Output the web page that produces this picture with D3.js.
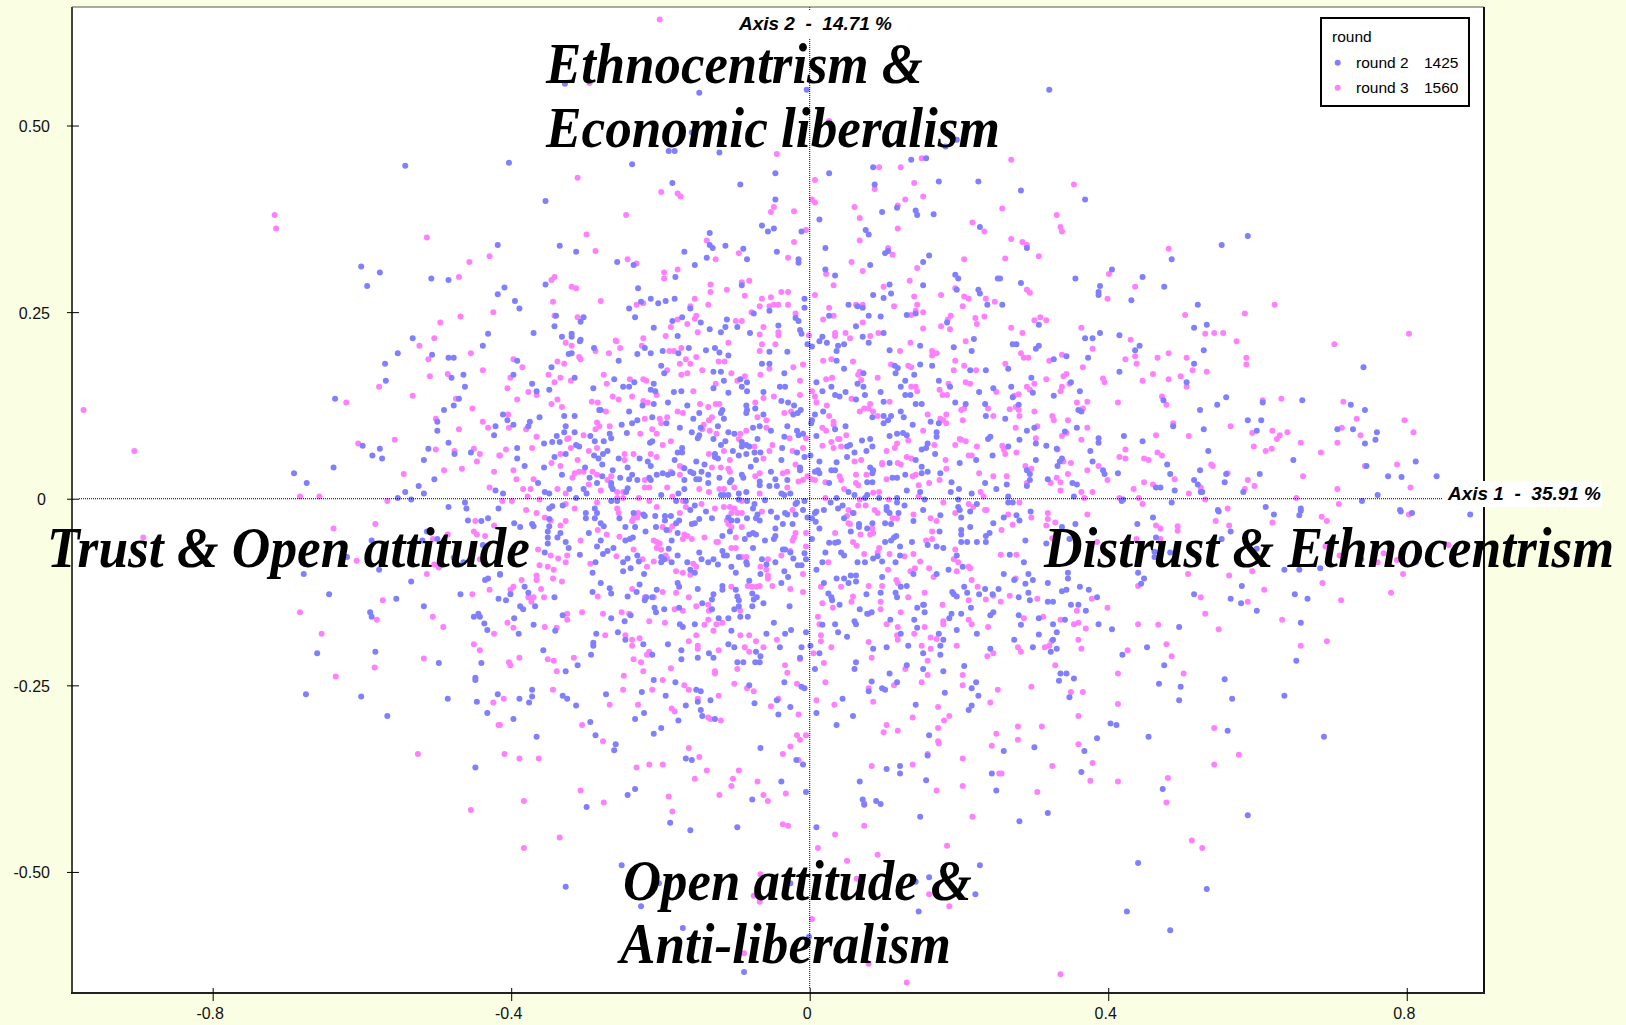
<!DOCTYPE html>
<html>
<head>
<meta charset="utf-8">
<script src="https://cdn.jsdelivr.net/npm/d3@7"></script>
<style>
html, body { margin: 0; padding: 0; background: #fafee2; }
svg { display: block; }
text { fill: #000; }
</style>
</head>
<body>
<div id="chart"></div>
<script>
// tick labels
const xTicks = [-0.8, -0.4, 0, 0.4, 0.8];
const xTickLabels = ["-0.8", "-0.4", "0", "0.4", "0.8"];
const yTicks = [0.5, 0.25, 0, -0.25, -0.5];
const yTickLabels = ["0.50", "0.25", "0", "-0.25", "-0.50"];
const legendRows = [["round 2", "1425"], ["round 3", "1560"]];

// flat x,y pairs, top left to bottom right by crop
const round2XY = [
-.542,.446,-.418,.340,-.601,.311,-.576,.303,-.593,.285,-.507,.295,-.484,.293,-.418,.274,-.431,.221,-.532,.215,
-.328,.556,-.148,.544,-.004,.548,-.158,.491,-.189,.466,-.181,.466,-.121,.464,.182,.472,.197,.481,-.403,.450,-.238,.448,
-.046,.436,.026,.436,.085,.444,.136,.454,.156,.456,.087,.421,.173,.425,.226,.425,-.184,.423,-.093,.421,-.354,.399,-.046,.401,
.117,.390,.097,.384,.142,.386,.144,.380,.166,.381,.013,.374,.228,.364,.075,.360,.079,.354,-.064,.366,-.056,.358,-.048,.362,-.011,.358,
-.134,.356,-.335,.339,-.313,.331,-.134,.340,-.130,.336,-.113,.339,-.089,.335,-.084,.321,-.168,.331,-.044,.331,.021,.336,.105,.332,.101,.329,
.160,.326,.152,.317,.081,.313,.021,.307,.034,.299,-.015,.321,-.015,.316,-.138,.323,-.154,.313,-.180,.297,-.258,.317,-.236,.313,-.354,.287,-.409,.283,
-.230,.282,-.091,.286,-.213,.268,-.181,.268,-.193,.265,-.203,.262,-.226,.264,-.395,.265,-.389,.255,-.242,.255,-.160,.255,-.007,.268,-.007,.256,
.107,.287,.085,.273,.109,.275,.099,.269,.152,.286,.195,.300,.199,.295,.197,.280,.226,.280,.228,.275,.238,.260,.252,.295,.052,.260,.064,.258,.071,.256,
.142,.248,.130,.246,.026,.245,.079,.245,.095,.244,.062,.231,.184,.236,.220,.214,.099,.222,.071,.217,.017,.217,-.013,.226,-.011,.221,-.080,.222,
-.042,.232,-.019,.242,-.015,.238,-.054,.252,-.075,.248,-.111,.240,-.113,.230,-.097,.230,-.119,.223,-.134,.227,-.146,.236,-.171,.243,-.184,.238,
-.177,.218,-.209,.229,-.234,.243,-.307,.237,-.303,.243,-.340,.245,-.342,.231,-.370,.222,-.332,.217,-.319,.221,-.319,.217,-.307,.213,.321,.548,
.283,.413,.369,.401,.587,.352,.552,.340,.291,.336,.485,.321,.405,.307,.255,.295,.356,.295,.446,.297,.283,.289,.389,.285,.475,.284,.387,.277,.387,.273,
.431,.266,.258,.260,.520,.260,.307,.233,.515,.229,.532,.233,.389,.222,.415,.219,.369,.215,.379,.215,.272,.207,.277,.207,.307,.205,.303,.201,.442,.205,
.436,.199,.528,.199,.344,.191,.373,.189,.327,.187,.515,.181,.266,.174,.742,.176,.415,.170,.297,.162,.350,.156,.505,.156,.270,.150,.362,.144,.299,.142,
.272,.136,.327,.138,.558,.136,.474,.132,.660,.132,.607,.129,.725,.126,.546,.126,.280,.126,.360,.119,.364,.117,.523,.119,.744,.119,.262,.107,.587,.105,
.605,.105,.487,.097,.301,.095,.358,.095,.707,.093,.728,.093,.528,.093,.291,.091,.599,.091,.760,.089,.342,.090,.421,.084,.387,.081,.387,.075,.281,.079,
.446,.077,.758,.079,.744,.074,.303,.074,.317,.071,.266,.070,.331,.067,.534,.064,.376,.064,.338,.054,.335,.050,.332,.044,.303,.052,.379,.050,.648,.052,
.812,.050,.291,.038,.479,.046,.746,.044,.393,.038,.395,.033,.523,.038,.295,.033,.413,.034,.483,.033,.558,.033,.603,.033,.775,.030,.793,.029,.840,.030,
.319,.026,.295,.025,.515,.025,.556,.022,.352,.021,.358,.019,.264,.019,.291,.017,.520,.019,.464,.015,.470,.015,.489,.011,.524,.009,.526,.009,.581,.009,
.354,.003,.266,.003,.761,.005,.420,-.001,.418,-.003,.740,-.003,.266,-.005,.272,-.005,.485,-.005,.611,-.011,.658,-.013,.791,-.015,.547,-.015,
.792,-.017,.807,-.019,.885,-.021,.548,-.017,.622,-.021,.656,-.022,.658,-.016,.564,-.044,.460,-.025,.439,-.034,.464,-.052,.552,-.054,.356,-.034,.338,-.038,
.296,-.017,.277,-.022,.281,-.029,.260,-.025,.348,-.054,.317,-.060,.289,-.056,.462,-.071,.462,-.078,.483,-.072,.599,-.067,.739,-.081,.812,-.085,
.636,-.095,.656,-.095,.684,-.093,.440,-.099,.448,-.107,.444,-.114,.579,-.117,.650,-.128,.515,-.128,.564,-.134,.667,-.134,.578,-.140,.599,-.150,.658,-.166,
.495,-.172,.387,-.168,.405,-.175,.385,-.132,.374,-.122,.362,-.118,.344,-.122,.338,-.124,.346,-.099,.346,-.107,.319,-.113,.299,-.109,.289,-.114,.293,-.101,
.274,-.109,.260,-.101,.287,-.085,.268,-.075,.293,-.126,.280,-.132,.295,-.136,.319,-.138,.326,-.138,.350,-.142,.360,-.142,.370,-.150,.280,-.156,.307,-.160,
.342,-.162,.326,-.168,.283,-.169,.331,-.179,.307,-.182,.326,-.189,.274,-.189,.299,-.199,.331,-.201,.452,-.199,.323,-.205,.419,-.209,.652,-.217,.475,-.223,
.336,-.234,.344,-.234,.354,-.241,.334,-.244,.556,-.242,.468,-.248,.497,-.252,.348,-.266,.636,-.264,.566,-.268,.495,-.270,.403,-.301,.411,-.303,.560,-.311,
.454,-.319,.689,-.319,.385,-.321,.301,-.333,.260,-.338,.368,-.338,.364,-.366,.473,-.389,.319,-.421,.587,-.424,.281,-.432,.440,-.488,.532,-.523,.425,-.553,.483,-.578,
-.438,.205,-.552,.195,-.506,.193,-.484,.189,-.477,.189,-.569,.181,-.464,.166,-.480,.162,-.568,.158,-.462,.150,-.636,.134,-.470,.134,-.477,.125,-.490,.119,
-.499,.103,-.421,.097,-.499,.091,-.423,.085,-.484,.075,-.599,.071,-.576,.067,-.511,.067,-.476,.060,-.454,.062,-.586,.058,-.573,.054,-.517,.052,-.638,.042,
-.691,.034,-.503,.026,-.674,.021,-.524,.017,-.421,.011,-.542,.009,-.517,.007,-.552,.001,-.534,-.001,-.462,-.005,-.484,-.011,-.460,-.013,-.417,-.013,
-.458,-.029,-.440,-.030,-.431,-.026,-.513,-.044,-.499,-.054,-.587,-.056,-.519,-.056,-.438,-.062,-.620,-.078,-.477,-.079,-.464,-.085,-.577,-.095,-.678,-.101,
-.415,-.101,-.431,-.107,-.435,-.109,-.534,-.111,-.644,-.128,-.468,-.128,-.417,-.134,-.554,-.134,-.517,-.144,-.589,-.152,-.587,-.158,-.450,-.158,-.444,-.154,
-.442,-.158,-.436,-.167,-.432,-.176,-.660,-.207,-.582,-.205,-.497,-.220,-.440,-.220,-.448,-.240,-.448,-.243,-.675,-.262,-.601,-.265,-.485,-.268,-.446,-.272,
-.418,-.262,-.432,-.287,-.566,-.291,-.448,-.360,
-.389,-.268,-.372,-.256,-.372,-.265,-.376,-.273,-.331,-.264,-.325,-.268,-.313,-.277,-.273,-.262,-.225,-.259,-.193,-.264,-.209,-.243,-.180,-.246,-.152,-.256,
-.146,-.258,-.150,-.272,-.133,-.270,-.081,-.250,-.034,-.246,-.011,-.252,-.007,-.254,-.044,-.270,-.074,-.274,-.026,-.279,-.166,-.277,-.146,-.283,-.144,-.291,
-.176,-.297,-.127,-.295,-.042,-.289,.009,-.287,.044,-.268,.058,-.291,.036,-.303,.079,-.258,.083,-.245,.097,-.254,.101,-.256,.117,-.246,.181,-.260,.142,-.276,
.217,-.254,.223,-.246,.226,-.264,.217,-.277,.213,-.283,.160,-.317,.158,-.344,.103,-.362,.121,-.358,.121,-.368,.156,-.377,.244,-.368,.250,-.391,.067,-.379,
.071,-.403,.073,-.410,.089,-.405,.095,-.409,.148,-.426,.009,-.440,.228,-.491,.160,-.507,.142,-.513,.222,-.530,.146,-.553,-.001,-.587,-.088,-.634,-.170,-.575,
-.226,-.546,-.327,-.520,-.202,-.515,-.252,-.491,-.026,-.515,-.160,-.444,-.187,-.434,-.097,-.440,-.299,-.413,-.244,-.397,-.234,-.389,-.077,-.403,-.005,-.393,
-.038,-.379,-.166,-.348,-.158,-.350,-.018,-.350,-.009,-.356,-.066,-.334,-.262,-.337,-.260,-.329,-.287,-.317,-.366,-.319,-.397,-.295,-.294,-.299,-.234,-.295,
-.222,-.287,-.209,-.315,-.199,-.307,
// dense core, rows from top to bottom
-.308,.211,-.289,.202,-.231,.194,-.221,.202,-.213,.195,-.197,.198,-.176,.195,-.162,.202,-.139,.199,-.127,.202,-.121,.196,-.109,.192,-.054,.197,-.030,.197,-.003,.207,.003,.204,.013,.211,.023,.209,.038,.205,.046,.207,.036,.198,.079,.209,.107,.199,.148,.205,.193,.203,.217,.198,
-.323,.194,-.319,.195,-.392,.185,-.256,.185,-.346,.176,-.199,.178,-.195,.168,-.064,.181,-.054,.181,.036,.185,.046,.174,.114,.178,.118,.175,.115,.168,.164,.178,.148,.180,.215,.172,.236,.172,-.129,.170,-.119,.170,-.034,.168,.072,.168,.140,.166,
-.397,.166,-.315,.162,-.372,.154,-.366,.144,-.349,.146,-.290,.148,-.262,.160,-.250,.150,-.242,.150,-.235,.156,-.209,.154,-.213,.146,-.207,.144,-.182,.143,-.172,.144,-.129,.148,-.115,.158,-.093,.160,-.084,.156,-.091,.150,-.084,.144,-.109,.142,-.040,.150,-.033,.150,.009,.156,.017,.144,.029,.150,.034,.139,.040,.137,.048,.143,.064,.154,.072,.150,.095,.143,.122,.150,.128,.158,.128,.139,.135,.139,.173,.158,.188,.150,.227,.143,.246,.148,
-.062,.143,-.190,.129,-.209,.127,-.224,.125,-.164,.125,-.282,.119,-.280,.119,-.242,.117,-.329,.111,-.315,.111,-.362,.109,-.411,.113,-.405,.105,-.397,.099,-.211,.109,-.148,.115,-.117,.119,-.119,.115,-.085,.125,-.084,.119,-.085,.115,-.073,.121,-.062,.113,-.038,.131,-.029,.129,-.021,.125,-.022,.113,-.016,.115,-.012,.119,.007,.113,.018,.117,.062,.133,.074,.139,.099,.130,.099,.111,.109,.111,.122,.117,.126,.109,.084,.109,.142,.127,.150,.127,.195,.129,.209,.127,.235,.127,.236,.111,.162,.103,.105,.105,-.156,.107,-.115,.107,
-.252,.099,-.238,.101,-.231,.105,-.192,.101,-.375,.103,-.377,.097,-.327,.097,-.315,.089,-.329,.089,-.339,.084,-.294,.084,-.288,.077,-.268,.087,-.266,.081,-.276,.077,-.245,.088,-.174,.095,-.158,.089,-.146,.095,-.148,.085,-.150,.081,-.123,.097,-.109,.089,-.101,.087,-.076,.095,-.067,.097,-.052,.091,-.070,.080,-.030,.097,-.034,.083,-.017,.091,-.009,.087,-.015,.085,.002,.101,.003,.105,.009,.084,.034,.093,.048,.097,.099,.101,.138,.099,.117,.087,.125,.088,.130,.085,.107,.084,.081,.080,.070,.078,.170,.089,.170,.083,.173,.101,.239,.080,.242,.083,
-.392,.068,-.392,.054,-.356,.074,-.345,.076,-.335,.076,-.342,.056,-.327,.060,-.313,.072,-.309,.070,-.289,.058,-.283,.054,-.277,.060,-.271,.064,-.256,.054,-.228,.054,-.211,.077,-.214,.075,-.171,.068,-.177,.062,-.171,.062,-.181,.052,-.129,.080,-.119,.072,-.113,.077,-.127,.060,-.123,.054,-.127,.056,-.103,.064,-.095,.058,-.091,.076,-.085,.072,-.081,.070,-.091,.070,-.085,.060,-.074,.062,-.066,.062,-.037,.068,-.038,.052,-.017,.062,-.007,.056,.001,.058,.013,.050,.050,.070,.054,.072,.050,.056,.036,.049,.060,.062,.076,.064,.084,.070,.107,.048,.150,.066,.156,.068,.158,.074,.142,.052,.168,.060,.201,.048,.245,.058,.223,.052,
-.382,.044,-.356,.042,-.332,.032,-.364,.021,-.301,.042,-.295,.028,-.278,.046,-.278,.030,-.285,.021,-.264,.038,-.254,.028,-.266,.021,-.244,.042,-.238,.032,-.242,.026,-.231,.025,-.217,.050,-.213,.044,-.215,.028,-.213,.025,-.205,.032,-.197,.034,-.190,.032,-.184,.034,-.168,.041,-.160,.036,-.156,.034,-.168,.025,-.152,.050,-.152,.026,-.148,.026,-.141,.046,-.145,.036,-.136,.032,-.136,.021,-.121,.028,-.105,.025,-.107,.022,-.091,.032,-.089,.028,-.079,.043,-.072,.052,-.067,.023,-.067,.018,-.052,.036,-.046,.026,-.054,.017,-.044,.017,-.030,.025,-.013,.042,-.013,.038,.007,.036,.011,.038,.013,.034,.026,.021,.029,.038,.034,.038,.081,.042,.085,.038,.084,.034,.077,.022,.084,.022,.111,.028,.117,.028,.128,.032,.150,.043,.158,.036,.150,.034,.175,.034,.190,.022,.235,.021,.250,.013,
-.411,.007,-.355,.009,-.349,.007,-.322,.013,-.303,.013,-.299,.007,-.313,.001,-.244,.014,-.246,.009,-.266,.017,-.264,.013,-.176,.007,-.199,.005,-.168,.013,-.119,.005,-.115,.005,-.109,.005,-.095,.007,-.085,.009,-.095,-.001,-.060,-.002,-.038,.007,-.034,.005,-.026,.007,.036,.001,.052,.009,.060,.005,.077,.005,.074,.001,.093,.001,.117,.001,.130,.011,.148,.009,.154,-.001,.189,.009,.200,.013,.199,-.001,.217,.007,
-.345,-.010,-.349,-.013,-.331,-.009,-.300,-.019,-.288,-.013,-.285,-.019,-.300,-.026,-.288,-.026,-.266,-.003,-.258,-.003,-.236,-.019,-.223,-.021,-.221,-.023,-.207,-.023,-.194,-.023,-.186,-.023,-.194,-.029,-.179,-.003,-.166,-.003,-.160,-.015,-.154,-.009,-.139,-.017,-.131,-.026,-.109,-.025,-.105,-.029,-.084,-.003,-.074,-.007,-.076,-.013,-.084,-.026,-.070,-.021,-.072,-.026,-.067,-.029,-.052,-.017,-.044,-.025,-.030,-.021,-.033,-.019,-.019,-.007,-.017,-.005,-.007,-.003,-.009,-.015,-.019,-.021,.007,-.019,.009,-.017,-.003,-.025,.003,-.026,.019,-.015,.028,-.005,.038,-.013,.044,-.009,.046,-.026,.058,-.019,.103,-.011,.103,-.015,.107,-.019,.119,-.019,.117,-.005,.127,-.009,.139,-.030,.152,-.015,.175,-.022,.199,-.011,.201,-.015,.203,-.025,.224,-.007,.215,-.017,.246,-.033,
-.396,-.033,-.372,-.034,-.388,-.038,-.370,-.037,-.349,-.027,-.349,-.037,-.351,-.044,-.334,-.046,-.351,-.052,-.338,-.052,-.327,-.058,-.296,-.046,-.280,-.033,-.276,-.037,-.280,-.056,-.255,-.026,-.247,-.038,-.234,-.038,-.247,-.056,-.241,-.054,-.237,-.052,-.220,-.044,-.206,-.038,-.192,-.042,-.179,-.033,-.175,-.029,-.177,-.046,-.185,-.056,-.158,-.034,-.154,-.033,-.148,-.027,-.117,-.050,-.107,-.044,-.097,-.029,-.087,-.054,-.081,-.048,-.076,-.046,-.072,-.048,-.060,-.056,-.046,-.050,-.048,-.054,-.046,-.040,-.036,-.034,-.023,-.034,.003,-.054,.008,-.031,.013,-.040,.026,-.059,.034,-.059,.038,-.058,.055,-.044,.066,-.034,.066,-.038,.084,-.033,.077,-.040,.101,-.033,.109,-.034,.116,-.050,.113,-.052,.109,-.056,.101,-.058,.137,-.058,.174,-.044,.203,-.042,.203,-.048,.215,-.038,.203,-.058,.211,-.058,.224,-.058,.236,-.058,.236,-.050,.241,-.046,
-.355,-.072,-.351,-.060,-.323,-.066,-.308,-.075,-.285,-.064,-.277,-.074,-.271,-.070,-.263,-.066,-.287,-.085,-.291,-.099,-.250,-.085,-.244,-.080,-.240,-.093,-.250,-.097,-.231,-.076,-.229,-.084,-.222,-.101,-.199,-.078,-.195,-.081,-.189,-.067,-.185,-.085,-.199,-.085,-.177,-.076,-.164,-.085,-.148,-.072,-.145,-.081,-.136,-.085,-.129,-.081,-.123,-.088,-.160,-.095,-.154,-.099,-.117,-.070,-.115,-.076,-.111,-.076,-.095,-.078,-.105,-.091,-.099,-.099,-.085,-.085,-.084,-.088,-.076,-.066,-.064,-.081,-.058,-.088,-.046,-.085,-.036,-.068,-.033,-.068,-.026,-.072,-.022,-.080,-.016,-.089,-.011,-.089,-.007,-.073,-.005,-.081,-.034,-.097,-.066,-.101,-.029,-.105,.017,-.085,.009,-.095,.021,-.072,.042,-.072,.046,-.076,.064,-.085,.074,-.085,.085,-.080,.091,-.077,.097,-.084,.121,-.064,.121,-.076,.115,-.085,.139,-.101,.158,-.062,.170,-.064,.179,-.066,.197,-.076,.205,-.091,.186,-.095,.170,-.101,
-.415,-.102,-.280,-.113,-.228,-.115,-.291,-.125,-.266,-.127,-.268,-.120,-.244,-.131,-.232,-.125,-.221,-.136,-.211,-.132,-.219,-.132,-.205,-.122,-.177,-.113,-.175,-.118,-.150,-.121,-.117,-.117,-.117,-.122,-.129,-.128,-.131,-.135,-.099,-.122,-.097,-.131,-.095,-.136,-.081,-.110,-.077,-.127,-.075,-.135,-.071,-.132,-.062,-.140,-.038,-.113,.019,-.113,.025,-.127,.029,-.132,.030,-.136,.036,-.107,.046,-.107,.055,-.103,.062,-.103,.052,-.113,.062,-.111,.076,-.128,.095,-.126,.097,-.105,.122,-.118,.115,-.126,.117,-.132,.130,-.117,.191,-.125,.193,-.128,.197,-.131,.207,-.118,.211,-.126,.227,-.128,.235,-.121,.245,-.128,.253,-.121,-.401,-.128,-.377,-.126,-.407,-.136,-.342,-.132,-.382,-.118,-.388,-.144,-.384,-.148,-.368,-.144,.040,-.142,.153,-.142,
-.208,-.146,-.206,-.152,-.195,-.148,-.175,-.146,-.144,-.140,-.131,-.148,-.101,-.148,-.095,-.144,-.077,-.144,-.093,-.158,-.083,-.158,-.109,-.160,-.122,-.160,-.154,-.168,-.174,-.168,-.170,-.172,-.396,-.160,-.370,-.169,-.390,-.181,-.331,-.156,-.341,-.177,-.266,-.160,-.248,-.164,-.240,-.156,-.286,-.181,-.257,-.179,-.247,-.189,-.290,-.197,-.290,-.193,-.223,-.195,-.190,-.195,-.211,-.209,-.293,-.209,-.311,-.223,-.327,-.231,-.357,-.203,-.172,-.203,-.172,-.215,-.135,-.207,-.150,-.213,-.129,-.213,-.105,-.177,-.109,-.195,-.101,-.199,-.072,-.205,-.066,-.211,-.097,-.219,-.089,-.219,-.073,-.219,-.067,-.219,-.048,-.166,-.058,-.181,-.033,-.181,-.025,-.176,-.005,-.179,-.011,-.199,.001,-.197,-.013,-.213,-.040,-.199,-.027,-.144,.017,-.169,.013,-.207,.007,-.228,.034,-.168,.038,-.179,.050,-.185,.060,-.164,.062,-.168,.062,-.219,.060,-.228,.085,-.201,.103,-.199,.132,-.197,.130,-.223,.107,-.234,.067,-.148,.077,-.154,.083,-.152,.108,-.162,.122,-.181,.140,-.162,.152,-.142,.144,-.146,.154,-.152,.144,-.173,.173,-.181,.179,-.189,.175,-.197,.175,-.209,.152,-.207,.152,-.228,.179,-.231,.207,-.224,.203,-.154,.190,-.154,.187,-.160,.197,-.176,.224,-.181,.216,-.146,.242,-.156,.246,-.152,.242,-.201
];
const round3XY = [
-.717,.380,-.715,.362,-.513,.350,-.429,.325,-.456,.317,-.470,.297,-.424,.250,-.468,.244,-.495,.236,-.503,.215,
-.201,.642,-.295,.557,.026,.506,-.044,.462,-.311,.430,.093,.444,.122,.444,.150,.456,.007,.427,.087,.415,.140,.423,-.199,.411,-.177,.409,-.173,.405,-.048,.391,-.052,.384,-.021,.385,.003,.401,.007,.397,
-.246,.380,.060,.391,.128,.401,.152,.405,.118,.393,.067,.376,.218,.370,.234,.358,.118,.362,.067,.346,-.005,.360,-.299,.354,-.138,.346,-.021,.344,-.287,.332,.105,.336,-.095,.329,.111,.327,
.207,.321,.056,.317,.144,.309,.071,.305,.022,.301,-.029,.323,-.126,.321,-.177,.307,-.195,.303,-.195,.295,-.244,.321,-.232,.315,-.342,.297,-.346,.293,-.319,.284,-.313,.282,-.091,.290,-.081,.292,
-.133,.287,-.133,.277,-.111,.280,-.087,.272,-.038,.277,-.029,.277,-.064,.268,-.052,.270,-.154,.268,-.223,.262,-.232,.260,-.280,.265,-.344,.264,-.136,.260,-.160,.258,.007,.273,.032,.286,.099,.284,
.140,.271,.134,.292,.195,.282,.176,.273,.207,.271,.213,.268,.236,.268,.248,.264,.144,.260,.113,.258,.205,.258,.062,.260,.071,.260,.026,.256,.152,.250,.142,.252,.136,.246,.032,.245,.018,.240,.071,.236,
.152,.228,.176,.231,.188,.227,.189,.245,.185,.240,.222,.242,.234,.244,.224,.234,.092,.222,.081,.218,.048,.222,.034,.222,.034,.218,.054,.215,-.001,.219,-.042,.223,-.042,.219,-.067,.220,-.062,.230,
-.019,.248,-.029,.260,-.042,.260,-.048,.260,-.054,.258,-.067,.258,-.078,.250,-.099,.238,-.091,.238,-.150,.223,-.164,.234,-.152,.245,-.154,.241,-.177,.240,-.186,.230,-.193,.218,-.223,.215,-.260,.212,
-.311,.243,-.342,.245,.270,.454,.354,.421,.258,.389,.331,.380,.336,.364,.338,.358,.270,.348,.285,.344,.291,.340,.481,.335,.262,.322,.307,.325,.401,.301,.436,.284,.291,.280,.295,.276,.399,.268,
.623,.260,.503,.246,.583,.248,.309,.243,.301,.239,.317,.239,.270,.229,.364,.229,.285,.222,.530,.221,.542,.222,.554,.222,.803,.221,.430,.213,.572,.211,.703,.207,.379,.201,.283,.195,.287,.189,.293,.189,
.338,.193,.321,.185,.436,.191,.423,.187,.466,.189,.481,.195,.505,.189,.585,.189,.585,.180,.262,.181,.438,.181,.366,.176,.513,.172,.532,.170,.460,.167,.344,.167,.340,.164,.393,.161,.395,.156,.497,.164,
.481,.160,.317,.160,.446,.158,.348,.154,.301,.154,.291,.150,.295,.146,.338,.150,.505,.150,.336,.144,.280,.140,.274,.138,.472,.137,.607,.132,.632,.134,.715,.130,.358,.129,.372,.130,.413,.129,.478,.126,
.276,.123,.280,.119,.268,.120,.366,.121,.301,.117,.281,.111,.325,.111,.327,.105,.346,.105,.733,.107,.797,.105,.487,.101,.564,.097,.305,.097,.276,.095,.372,.095,.713,.095,.620,.091,.593,.088,.809,.089,
.640,.089,.630,.085,.626,.080,.738,.085,.344,.088,.338,.084,.464,.085,.508,.084,.303,.081,.364,.079,.658,.075,.707,.075,.258,.071,.260,.066,.262,.060,.332,.066,.595,.070,.619,.067,.611,.064,.423,.066,
.277,.062,.466,.062,.472,.058,.685,.062,.415,.056,.423,.054,.448,.054,.454,.052,.340,.050,.350,.048,.787,.046,.289,.044,.297,.040,.387,.044,.538,.046,.540,.044,.744,.044,.372,.038,.346,.033,.560,.034,
.661,.030,.264,.030,.331,.028,.489,.026,.399,.025,.336,.022,.448,.022,.587,.025,.323,.021,.291,.021,.460,.019,.524,.015,.596,.017,.805,.015,.434,.013,.336,.011,.583,.013,.707,.013,.364,.009,.379,.009,
.508,.007,.415,.001,.441,.001,.368,.001,.652,.001,.530,-.001,.281,-.005,.446,-.007,.709,-.007,.560,-.013,
.803,-.021,.686,-.024,.693,-.030,.620,-.032,.562,-.036,.544,-.030,.464,-.036,.470,-.040,.493,-.037,.493,-.043,.470,-.054,.438,-.054,.385,-.058,.329,-.032,.372,-.021,.319,-.019,.319,-.027,.317,-.036,
.297,-.025,.266,-.021,.272,-.035,.257,-.042,.325,-.053,.691,-.064,.856,-.062,.769,-.073,.710,-.076,.761,-.085,.787,-.082,.593,-.097,.562,-.103,.507,-.101,.795,-.101,.440,-.117,.687,-.113,.609,-.122,
.779,-.126,.524,-.132,.712,-.136,.587,-.138,.530,-.154,.633,-.162,.548,-.175,.467,-.169,.440,-.168,.399,-.146,.378,-.134,.276,-.107,.277,-.075,.256,-.075,.305,-.134,.268,-.130,.358,-.150,.256,-.138,
.287,-.160,.313,-.158,.336,-.162,.354,-.168,.360,-.166,.370,-.174,.360,-.189,.324,-.191,.321,-.197,.315,-.199,.279,-.199,.364,-.201,.478,-.195,.658,-.197,.693,-.191,.283,-.205,.426,-.203,.485,-.211,
.329,-.223,.413,-.234,.501,-.234,.297,-.252,.350,-.259,.366,-.259,.413,-.275,.360,-.291,.279,-.305,.311,-.305,.542,-.307,.279,-.323,.360,-.329,.575,-.343,.379,-.354,.542,-.356,.325,-.358,.257,-.368,
.480,-.374,.376,-.378,.413,-.379,.305,-.393,.478,-.407,.512,-.458,.526,-.468,.336,-.637,
-.523,.205,-.454,.195,-.511,.187,-.438,.172,-.485,.167,-.509,.164,-.577,.150,-.532,.138,-.474,.134,-.621,.129,-.452,.121,-.973,.119,-.501,.107,-.438,.103,-.431,.095,-.470,.093,-.556,.079,-.605,.074,
-.501,.066,-.905,.064,-.450,.067,-.476,.064,-.442,.060,-.416,.058,-.446,.050,-.466,.040,-.490,.038,-.423,.036,-.544,.033,-.429,.015,-.683,.003,-.657,.003,-.566,-.003,-.448,-.030,-.582,-.034,-.423,-.036,
-.638,-.040,-.485,-.048,-.450,-.044,-.446,-.048,-.435,-.050,-.893,-.052,-.505,-.054,-.607,-.083,-.442,-.081,-.503,-.088,-.497,-.092,-.513,-.101,-.429,-.122,-.452,-.128,-.572,-.136,-.683,-.152,-.580,-.162,
-.505,-.158,-.491,-.172,-.654,-.181,-.423,-.181,-.450,-.195,-.442,-.203,-.517,-.214,-.583,-.226,-.635,-.238,-.424,-.273,-.417,-.303,-.525,-.342,-.454,-.417,
-.410,-.268,-.344,-.256,-.268,-.276,-.250,-.256,-.211,-.256,-.197,-.243,-.168,-.250,-.162,-.256,-.150,-.268,-.122,-.264,-.101,-.248,-.084,-.254,-.075,-.258,-.017,-.248,-.042,-.268,-.052,-.278,-.230,-.276,
-.185,-.281,-.181,-.285,-.136,-.293,-.133,-.295,-.119,-.297,-.015,-.289,.009,-.270,.021,-.246,.033,-.276,.085,-.272,.079,-.254,.113,-.250,.150,-.246,.138,-.293,.172,-.279,.187,-.291,.180,-.297,.172,-.307,
.205,-.250,.242,-.273,.252,-.256,.103,-.303,.099,-.313,.118,-.311,.250,-.315,.172,-.325,.173,-.328,.244,-.331,.158,-.342,.205,-.348,.083,-.358,.138,-.356,.254,-.368,.170,-.391,.205,-.385,.073,-.408,
.218,-.426,.073,-.438,.034,-.450,.011,-.468,.184,-.465,.091,-.477,.050,-.485,.063,-.509,.160,-.530,.187,-.546,.003,-.563,.036,-.605,.079,-.623,.130,-.648,-.088,-.609,-.066,-.503,-.075,-.532,-.067,-.540,
-.383,-.468,-.335,-.454,-.036,-.436,-.029,-.438,-.184,-.419,-.189,-.399,-.276,-.407,-.307,-.391,-.383,-.405,-.121,-.397,-.062,-.397,-.056,-.405,-.032,-.395,-.070,-.379,-.105,-.385,-.103,-.375,-.154,-.375,
-.138,-.364,-.095,-.364,-.232,-.360,-.215,-.356,-.197,-.356,-.409,-.342,-.389,-.348,-.363,-.348,-.148,-.346,-.162,-.334,-.015,-.350,-.026,-.332,-.036,-.342,-.017,-.317,-.013,-.323,-.005,-.317,-.277,-.325,
-.415,-.303,-.305,-.303,
// dense core, rows from top to bottom
-.327,.209,-.319,.205,-.287,.198,-.269,.195,-.259,.211,-.254,.202,-.225,.205,-.188,.198,-.182,.198,-.172,.202,-.109,.209,-.067,.198,-.064,.207,-.046,.207,.121,.198,.135,.209,.164,.198,.170,.195,.209,.211,.164,.192,
-.397,.187,-.385,.176,-.338,.184,-.329,.181,-.309,.190,-.307,.187,-.174,.181,-.166,.187,-.160,.181,-.152,.190,-.122,.184,-.114,.184,-.066,.166,-.054,.174,-.022,.176,-.009,.180,.018,.185,.029,.187,.058,.184,.067,.170,.109,.180,.132,.178,.136,.176,.195,.185,.207,.178,.193,.172,.223,.172,-.144,.172,-.172,.166,-.164,.168,-.191,.172,.091,.162,
-.401,.162,-.405,.148,-.377,.143,-.366,.139,-.350,.166,-.342,.156,-.334,.162,-.320,.158,-.276,.166,-.272,.154,-.241,.160,-.223,.160,-.219,.158,-.205,.139,-.156,.144,-.105,.168,-.087,.164,-.097,.158,-.126,.154,-.013,.158,.003,.144,.022,.160,.030,.162,.065,.166,.069,.159,.142,.150,.144,.144,.136,.150,.174,.146,.178,.139,.184,.139,.209,.156,.215,.154,.186,.154,.250,.143,
-.392,.133,-.338,.133,-.346,.127,-.332,.123,-.292,.130,-.284,.129,-.264,.137,-.256,.133,-.238,.137,-.223,.131,-.217,.129,-.147,.127,-.136,.123,-.126,.127,-.121,.127,-.177,.117,-.170,.115,-.073,.129,-.048,.137,-.034,.115,-.025,.117,-.062,.135,-.013,.139,.007,.137,.009,.129,.023,.125,.026,.111,.056,.134,.081,.127,.073,.121,.067,.117,.079,.121,.085,.117,.091,.111,.107,.130,.203,.119,.207,.121,.239,.121,.158,.113,.175,.107,.183,.113,-.404,.113,-.273,.117,.205,.105,.246,.111,-.135,.105,-.131,.109,-.191,.109,-.201,.107,-.199,.101,
-.380,.093,-.403,.095,-.285,.102,-.282,.097,-.287,.093,-.268,.097,-.221,.107,-.211,.093,-.205,.087,-.227,.087,-.303,.085,-.366,.083,-.325,.080,-.323,.081,-.142,.099,-.144,.093,-.125,.087,-.134,.091,-.093,.087,-.095,.080,-.085,.091,-.070,.109,-.058,.105,-.058,.095,-.027,.081,-.005,.081,.017,.095,.022,.091,.032,.103,.032,.099,.040,.080,.049,.085,.152,.091,.132,.078,.179,.105,.183,.101,.201,.080,.209,.077,
-.407,.066,-.372,.068,-.415,.058,-.320,.068,-.334,.060,-.346,.048,-.334,.044,-.311,.052,-.296,.064,-.285,.068,-.248,.060,-.236,.060,-.248,.052,-.197,.072,-.186,.077,-.213,.060,-.205,.056,-.135,.060,-.115,.064,-.107,.052,-.074,.070,-.050,.072,-.054,.064,-.062,.054,-.023,.064,-.019,.046,-.009,.068,.017,.071,.029,.076,.032,.068,.038,.080,.042,.070,.060,.050,.069,.052,.114,.068,.103,.064,.117,.074,.130,.056,.136,.054,.097,.048,.182,.052,.195,.072,.203,.079,.213,.058,.217,.058,.224,.070,.167,.072,
-.397,.038,-.393,.026,-.370,.026,-.318,.028,-.315,.034,-.309,.036,-.303,.036,-.291,.036,-.285,.032,-.271,.025,-.266,.030,-.221,.025,-.186,.036,-.174,.044,-.170,.042,-.174,.032,-.131,.042,-.119,.042,-.109,.040,-.107,.036,-.073,.030,-.067,.034,-.036,.034,-.030,.036,-.009,.025,-.003,.030,-.015,.023,.003,.026,.007,.025,.021,.022,.040,.030,.042,.025,.062,.032,.062,.021,.065,.018,.076,.032,.097,.046,.118,.048,.103,.026,.122,.046,.142,.032,.138,.030,.160,.021,.174,.025,.183,.040,.227,.034,.246,.030,
-.384,.013,-.374,.013,-.378,.003,-.338,.013,-.327,.007,-.296,.019,-.280,.011,-.258,.009,-.250,.009,-.258,.001,-.250,.001,-.229,.001,-.221,.015,-.215,.015,-.191,.015,-.184,.003,-.148,.013,-.135,.009,-.121,.013,-.115,.013,-.101,.015,-.067,.007,-.030,.015,.021,.001,.046,.013,.067,-.001,.085,.008,.106,-.001,.093,.009,.146,.018,.146,.003,.229,.009,.233,.003,
-.412,-.003,-.399,-.003,-.380,-.015,-.366,-.019,-.362,-.001,-.315,-.013,-.327,-.007,-.285,-.005,-.258,-.013,-.256,-.019,-.230,-.019,-.236,-.026,-.238,-.030,-.231,-.025,-.215,-.003,-.205,-.011,-.170,-.003,-.166,-.011,-.174,-.019,-.145,-.007,-.127,-.013,-.115,-.011,-.107,-.011,-.101,-.013,-.097,-.019,-.091,-.019,-.105,-.019,-.091,-.003,-.064,-.017,-.023,-.015,.052,-.015,.050,-.023,.059,-.019,.065,-.009,.075,-.009,.087,-.015,.091,-.019,.111,-.026,.117,-.026,.139,-.021,.162,-.026,.170,-.030,.179,-.005,.195,-.019,.213,-.007,.219,-.011,.235,-.015,.237,-.015,
-.355,-.025,-.347,-.029,-.327,-.030,-.334,-.036,-.307,-.056,-.284,-.042,-.272,-.048,-.255,-.051,-.209,-.056,-.205,-.058,-.201,-.060,-.197,-.038,-.184,-.037,-.188,-.042,-.168,-.048,-.164,-.050,-.170,-.054,-.158,-.054,-.141,-.052,-.125,-.058,-.105,-.038,-.099,-.052,-.091,-.038,-.111,-.029,-.109,-.034,-.019,-.046,-.021,-.052,-.023,-.056,-.005,-.046,.034,-.046,.058,-.058,.068,-.048,.081,-.048,.085,-.046,.084,-.040,.054,-.034,.052,-.033,.164,-.044,.164,-.054,.156,-.056,
-.364,-.068,-.366,-.109,-.347,-.076,-.337,-.080,-.325,-.076,-.327,-.085,-.362,-.089,-.351,-.091,-.343,-.095,-.294,-.087,-.259,-.077,-.236,-.068,-.224,-.081,-.218,-.091,-.209,-.084,-.191,-.080,-.193,-.076,-.205,-.066,-.199,-.068,-.179,-.097,-.156,-.087,-.170,-.099,-.152,-.091,-.160,-.102,-.105,-.066,-.099,-.066,-.123,-.058,-.091,-.078,-.085,-.078,-.066,-.091,-.056,-.081,-.058,-.095,-.056,-.103,-.056,-.107,-.038,-.076,-.026,-.070,-.005,-.064,-.009,-.101,.025,-.085,.063,-.063,.073,-.074,.091,-.072,.093,-.066,.107,-.074,.105,-.095,.127,-.077,.139,-.074,.148,-.084,.141,-.093,.135,-.097,.160,-.093,.166,-.105,.195,-.068,.193,-.081,.199,-.085,.213,-.091,.215,-.093,.197,-.097,
-.386,-.109,-.366,-.103,-.344,-.107,-.332,-.111,-.397,-.118,-.360,-.121,-.401,-.122,-.356,-.132,-.370,-.132,-.377,-.132,-.373,-.138,-.284,-.131,-.238,-.121,-.197,-.125,-.179,-.126,-.162,-.132,-.105,-.118,-.083,-.117,-.077,-.118,-.067,-.117,-.071,-.118,-.050,-.117,-.026,-.121,-.009,-.125,.015,-.118,.042,-.118,.056,-.138,.058,-.131,.079,-.117,.097,-.117,.116,-.109,.118,-.113,.132,-.132,.154,-.126,.095,-.138,.178,-.142,.213,-.136,.217,-.109,.225,-.118,.236,-.135,.017,-.140,.031,-.146,-.221,-.132,-.209,-.132,.246,-.130,
-.325,-.154,-.325,-.162,-.305,-.152,-.277,-.154,-.252,-.152,-.242,-.154,-.405,-.166,-.397,-.173,-.355,-.172,-.339,-.173,-.215,-.164,-.194,-.166,-.152,-.144,-.181,-.148,-.170,-.150,-.136,-.142,-.135,-.150,-.136,-.162,-.125,-.168,-.117,-.166,-.152,-.183,-.141,-.169,-.129,-.177,-.162,-.191,-.150,-.197,-.150,-.201,-.093,-.183,-.081,-.183,-.093,-.150,-.247,-.183,-.238,-.189,-.228,-.187,-.238,-.197,-.274,-.183,-.218,-.209,-.215,-.205,-.122,-.203,-.087,-.199,-.081,-.205,-.072,-.191,-.062,-.199,-.044,-.189,-.316,-.213,-.351,-.215,-.343,-.217,-.389,-.213,-.403,-.219,-.401,-.223,-.236,-.215,-.226,-.219,-.186,-.227,-.127,-.231,-.097,-.228,-.127,-.234,-.249,-.237,-.223,-.231,-.339,-.231,-.033,-.223,-.030,-.233,-.013,-.215,.005,-.207,.019,-.220,.029,-.199,.015,-.183,.015,-.191,.011,-.158,.013,-.168,.083,-.213,.079,-.192,.117,-.183,.118,-.172,.103,-.168,.118,-.189,.122,-.152,.154,-.172,.140,-.181,.150,-.197,.158,-.217,.162,-.186,.162,-.201,.179,-.164,.179,-.168,.170,-.188,.197,-.197,.205,-.236,.213,-.162,.217,-.168,.239,-.172,.246,-.207,.238,-.211,.128,-.228,.158,-.236,.079,-.154,.095,-.148
];

const width = 1626, height = 1025;
const pairs = xy => d3.range(0, xy.length, 2).map(i => [xy[i], xy[i + 1]]);

const x = d3.scaleLinear().domain([-0.9885, 0.9035]).range([72, 1484]);
const y = d3.scaleLinear().domain([0.6588, -0.6622]).range([7, 993]);

const svg = d3.select("#chart").append("svg").attr("width", width).attr("height", height);

svg.append("rect").attr("x", 72).attr("y", 7).attr("width", 1412).attr("height", 986).attr("fill", "#fff");

// dots, pink first since blue sits on top in most overlaps
svg.append("g").selectAll("circle").data(pairs(round3XY)).enter().append("circle")
    .attr("cx", d => x(d[0])).attr("cy", d => y(d[1])).attr("r", 3).attr("fill", "#ff80ff");
svg.append("g").selectAll("circle").data(pairs(round2XY)).enter().append("circle")
    .attr("cx", d => x(d[0])).attr("cy", d => y(d[1])).attr("r", 3).attr("fill", "#7f7fff");

// dotted zero lines
svg.append("line").attr("x1", 79).attr("x2", 1442).attr("y1", y(0)).attr("y2", y(0))
    .attr("stroke", "#000").attr("stroke-dasharray", "1,1");
svg.append("line").attr("x1", x(0)).attr("x2", x(0)).attr("y1", 7).attr("y2", 988)
    .attr("stroke", "#000").attr("stroke-dasharray", "1,1");

// frame
svg.append("line").attr("x1", 72).attr("x2", 1484).attr("y1", 7).attr("y2", 7).attr("stroke", "#555").attr("stroke-width", 1);
svg.append("line").attr("x1", 72).attr("x2", 72).attr("y1", 7).attr("y2", 994).attr("stroke", "#444").attr("stroke-width", 2);
svg.append("line").attr("x1", 1484).attr("x2", 1484).attr("y1", 7).attr("y2", 994).attr("stroke", "#111").attr("stroke-width", 2);
svg.append("line").attr("x1", 71).attr("x2", 1485).attr("y1", 993).attr("y2", 993).attr("stroke", "#222").attr("stroke-width", 2);

// axes
const xAxis = svg.append("g").attr("transform", "translate(0,993)")
    .call(d3.axisBottom(x).tickValues(xTicks).tickFormat((d, i) => xTickLabels[i]));
xAxis.select(".domain").remove();
xAxis.selectAll("line").attr("y1", -5).attr("y2", 8).attr("stroke", "#000");
xAxis.selectAll("text").attr("y", 26).attr("dy", 0).attr("dx", -3)
    .attr("font-family", "Liberation Sans").attr("font-size", 16).style("fill", "#111");

const yAxis = svg.append("g").attr("transform", "translate(72,0)")
    .call(d3.axisLeft(y).tickValues(yTicks).tickFormat((d, i) => yTickLabels[i]));
yAxis.select(".domain").remove();
yAxis.selectAll("line").attr("x1", -5).attr("x2", 7).attr("stroke", "#000");
yAxis.selectAll("text").attr("x", d => d === 0 ? -26 : -22).attr("dy", 6)
    .attr("font-family", "Liberation Sans").attr("font-size", 16).style("fill", "#111");

// axis captions on white patches
svg.append("rect").attr("x", 1443).attr("y", 481).attr("width", 159).attr("height", 26).attr("fill", "#fff");
svg.append("rect").attr("x", 735).attr("y", 10).attr("width", 162).attr("height", 29).attr("fill", "#fff");
const caption = (label, cx, cy) => svg.append("text").attr("x", cx).attr("y", cy).text(label)
    .style("white-space", "pre").attr("textLength", 153).attr("lengthAdjust", "spacingAndGlyphs")
    .attr("font-family", "Liberation Sans").attr("font-size", 18).attr("font-weight", "bold").attr("font-style", "italic");
caption("Axis 2  -  14.71 %", 739, 30);
caption("Axis 1  -  35.91 %", 1448, 500);

// big annotations, scaled sideways to the reference widths
const bigLabels = [
    ["Ethnocentrism &", 546, 83, 377],
    ["Economic liberalism", 546, 147, 454],
    ["Trust & Open attitude", 47, 567, 483],
    ["Distrust & Ethnocentrism", 1044, 567, 570],
    ["Open attitude &", 623, 900, 349],
    ["Anti-liberalism", 620, 963, 331]
];
svg.append("g").selectAll("text").data(bigLabels).enter().append("text")
    .text(d => d[0])
    .attr("font-family", "Liberation Serif").attr("font-size", 56)
    .attr("font-weight", "bold").attr("font-style", "italic")
    .attr("transform", function(d) {
        const sx = d[3] / this.getComputedTextLength();
        return `translate(${d[1]},${d[2]}) scale(${sx},1)`;
    });

// legend
const legend = svg.append("g");
legend.append("rect").attr("x", 1321).attr("y", 18).attr("width", 148).attr("height", 88)
    .attr("fill", "#fff").attr("stroke", "#000").attr("stroke-width", 2);
legend.append("text").attr("x", 1332).attr("y", 41.5).text("round")
    .attr("font-family", "Liberation Sans").attr("font-size", 15.5);
const rows = legend.selectAll("g").data(legendRows).enter().append("g")
    .attr("transform", (d, i) => `translate(0,${68 + i * 25})`);
rows.append("circle").attr("cx", 1337.7).attr("cy", -5.3).attr("r", 3)
    .attr("fill", (d, i) => i ? "#ff80ff" : "#7f7fff");
rows.append("text").attr("x", 1356).text(d => d[0]).attr("font-family", "Liberation Sans").attr("font-size", 15.5);
rows.append("text").attr("x", 1424).text(d => d[1]).attr("font-family", "Liberation Sans").attr("font-size", 15.5);
</script>
</body>
</html>
